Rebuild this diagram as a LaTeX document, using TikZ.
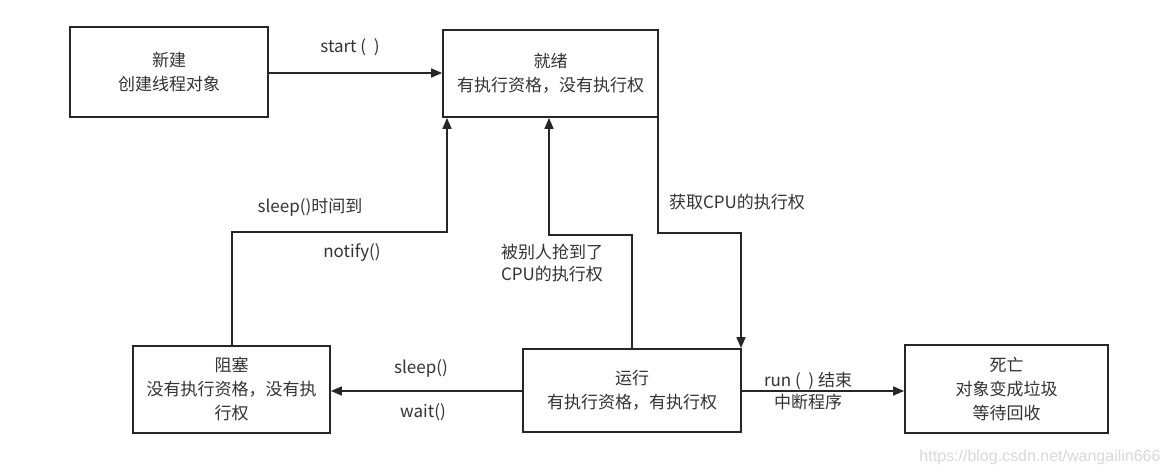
\documentclass[tikz,border=0pt]{standalone}
\usepackage{fontspec}
\setmainfont{Noto Sans CJK SC}
\newfontfamily\wmfont{Liberation Sans}
\usetikzlibrary{arrows.meta}
\begin{document}
\begin{tikzpicture}[x=1pt,y=-1pt,
  state/.style={draw=black!85,line width=1.8pt,align=center,inner sep=0pt,font=\fontsize{17}{24}\selectfont,text=black!80},
  conn/.style={draw=black!85,line width=1.6pt,-{Triangle[length=11pt,width=9pt]}},
  lbl/.style={font=\fontsize{17}{22}\selectfont,text=black!80,align=center,inner sep=0pt}]
\useasboundingbox[fill=white] (0,0) rectangle (1169,474);
\node[state,minimum width=198pt,minimum height=90pt] (new) at (169,72) {新建\\创建线程对象};
\node[state,minimum width=215pt,minimum height=87pt] (ready) at (550.5,73.5) {就绪\\有执行资格，没有执行权};
\node[state,minimum width=197pt,minimum height=87pt] (block) at (231.5,389.5) {阻塞\\没有执行资格，没有执\\行权};
\node[state,minimum width=218pt,minimum height=83pt] (run) at (632,390.5) {运行\\有执行资格，有执行权};
\node[state,minimum width=203pt,minimum height=88pt] (dead) at (1006.5,389) {死亡\\对象变成垃圾\\等待回收};
\coordinate (b1) at (232,232);
\coordinate (b2) at (447,232);
\coordinate (r1) at (632,235);
\coordinate (r2) at (549,235);
\coordinate (g1) at (658,233);
\coordinate (g2) at (741,233);
\draw[conn] (new.east |- 0,73) -- (ready.west |- 0,73);
\draw[conn] (run.west |- 0,391) -- (block.east |- 0,391);
\draw[conn] (run.east |- 0,391) -- (dead.west |- 0,391);
\draw[conn] (block.north -| b1) -- (b1) -- (b2) -- (ready.south -| b2);
\draw[conn] (run.north -| r1) -- (r1) -- (r2) -- (ready.south -| r2);
\draw[conn] (ready.south -| g1) -- (g1) -- (g2) -- (run.north -| g2);
\node[lbl] (l1) at (350,47) {start ( \ )};
\node[lbl] (l2) at (421,368) {sleep()};
\node[lbl] (l3) at (423,412) {wait()};
\node[lbl] (l4) at (808,391) {run ( \ ) 结束\\中断程序};
\node[lbl] (l5) at (310,207) {sleep()时间到};
\node[lbl] (l6) at (352,253) {notify()};
\node[lbl] (l7) at (552,263) {被别人抢到了\\CPU的执行权};
\node[lbl] (l8) at (737,202) {获取CPU的执行权};
\node[font=\wmfont\fontsize{16}{18}\selectfont,text=black!15,inner sep=0pt] (wm) at (1040,457) {https://blog.csdn.net/wangailin666};
\end{tikzpicture}
\end{document}
